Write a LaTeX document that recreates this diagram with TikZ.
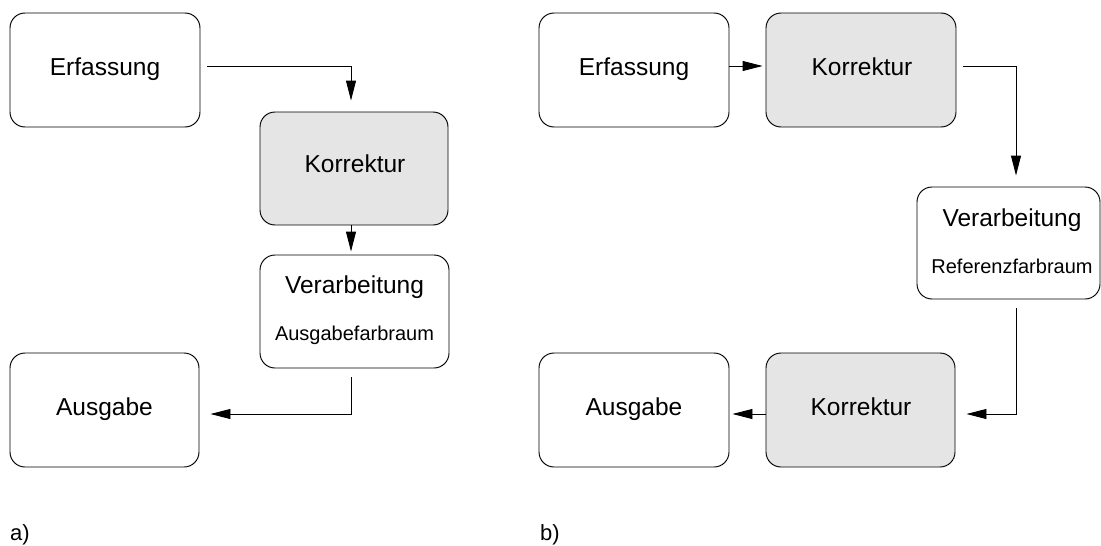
\documentclass[tikz,border=0pt]{standalone}
\usepackage{fontspec}
\setmainfont{Liberation Sans}
\usetikzlibrary{arrows.meta}
\definecolor{boxgray}{HTML}{E5E5E5}
\begin{document}
\begin{tikzpicture}[x=1pt,y=-1pt,
  box/.style={draw=black, line width=0.95pt, rounded corners=15pt, minimum width=190pt, minimum height=114pt, inner sep=0pt, fill=white},
  gbox/.style={box, fill=boxgray},
  big/.style={font=\fontsize{24.5}{29}\selectfont, anchor=base, inner sep=0pt},
  small/.style={font=\fontsize{20}{24}\selectfont, anchor=base, inner sep=0pt},
  lab/.style={font=\fontsize{22}{26}\selectfont, anchor=base west, inner sep=0pt},
  arr/.style={line width=0.95pt, -{Triangle[length=20pt,width=10pt]}},
]
\useasboundingbox (0,0) rectangle (1101,546);

% ---- a) ----
\node[box] (E1) at (105,70) {};
\node[gbox, minimum width=188pt, minimum height=113pt] (K1) at (354,168.5) {};
\node[box, minimum width=189pt, minimum height=113pt] (V1) at (354.5,311.5) {};
\node[box, minimum width=189pt] (A1) at (104.5,410) {};

\node[big] (tE1) at (105,75) {Erfassung};
\node[big] (tK1) at (355,172) {Korrektur};
\node[big] (tV1) at (354.5,293) {Verarbeitung};
\node[small] (sV1) at (354.5,340) {Ausgabefarbraum};
\node[big] (tA1) at (104.5,415) {Ausgabe};

\draw[arr] ([xshift=7pt,yshift=4pt]E1.east) -| ([xshift=-3pt,yshift=11pt]K1.north);
\draw[arr] ([xshift=-3pt]K1.south) -- ([xshift=-3.5pt,yshift=3pt]V1.north);
\draw[arr] ([xshift=-3.5pt,yshift=-9pt]V1.south) |- ([xshift=11pt,yshift=-4pt]A1.east);

% ---- b) ----
\node[box] (E2) at (634,70) {};
\node[gbox] (K2) at (861,70) {};
\node[box, minimum width=183pt, minimum height=112pt] (V2) at (1008.5,243) {};
\node[box] (A2) at (634,410) {};
\node[gbox, minimum width=189pt] (K3) at (860.5,410) {};

\node[big] (tE2) at (634,75) {Erfassung};
\node[big] (tK2) at (862,75) {Korrektur};
\node[big] (tV2) at (1012,226) {Verarbeitung};
\node[small] (sV2) at (1012,273) {Referenzfarbraum};
\node[big] (tA2) at (634,415) {Ausgabe};
\node[big] (tK3) at (861,415) {Korrektur};

\draw[arr] ([yshift=4pt]E2.east) -- ([xshift=-3pt,yshift=4pt]K2.west);
\draw[arr] ([xshift=7pt,yshift=4pt]K2.east) -| ([xshift=7.5pt,yshift=11pt]V2.north);
\draw[arr] ([xshift=7.5pt,yshift=-9pt]V2.south) |- ([xshift=11pt,yshift=-4pt]K3.east);
\draw[arr] ([yshift=-4pt]K3.west) -- ([xshift=3pt,yshift=-4pt]A2.east);

\node[lab] (la) at (10,540) {a)};
\node[lab] (lb) at (540,540) {b)};
\end{tikzpicture}
\end{document}
